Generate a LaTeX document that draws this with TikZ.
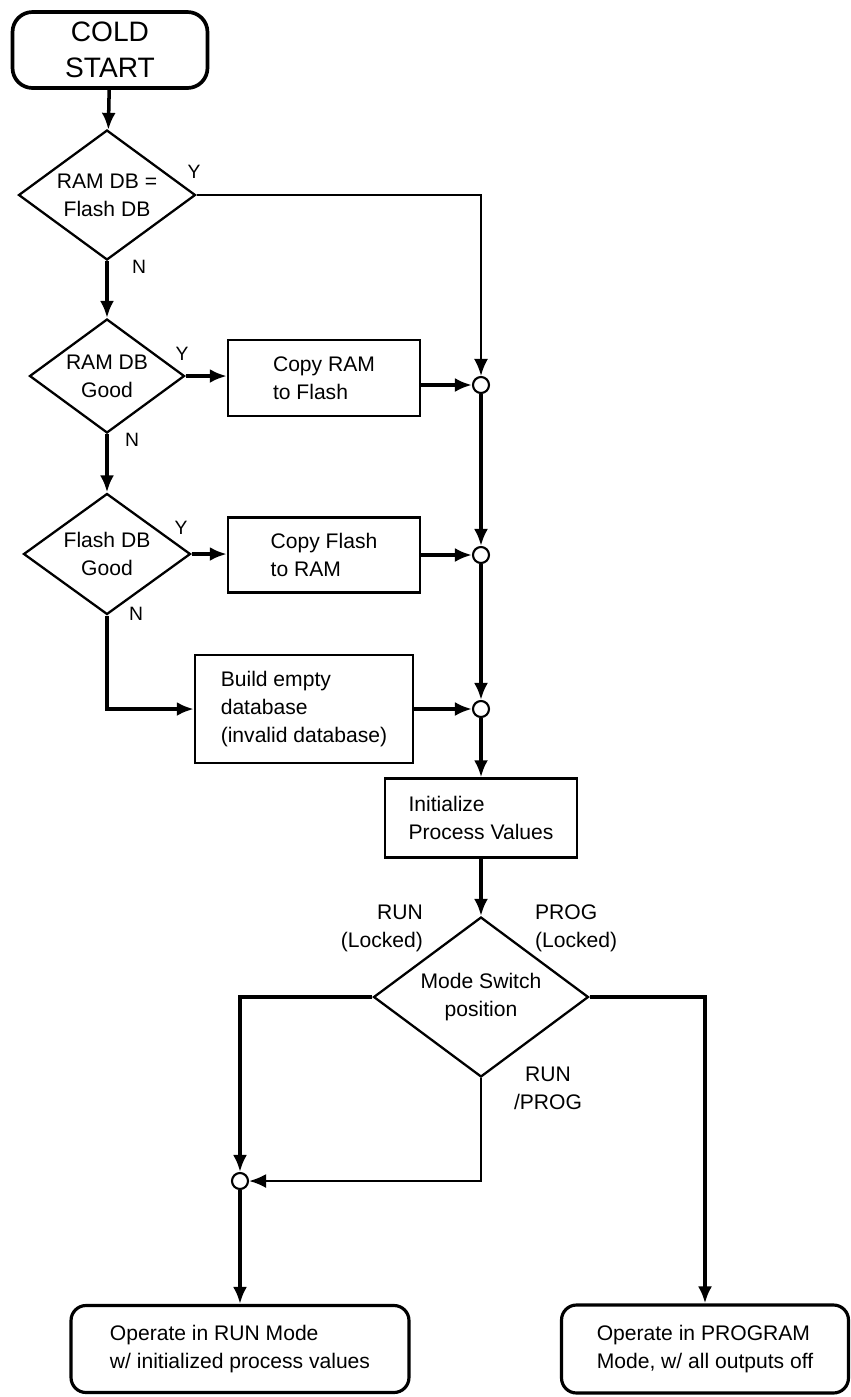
\documentclass[tikz,border=0pt]{standalone}
\usepackage{fontspec}
\setmainfont{Liberation Sans}
\usetikzlibrary{arrows.meta,shapes.geometric}

\begin{document}
\begin{tikzpicture}[
    x=0.02cm, y=-0.02cm,
    font=\fontsize{12}{16}\selectfont,
    box/.style={draw, line width=1.4pt, minimum height=1.52cm, minimum width=3.84cm,
      align=left, inner sep=3pt},
    term/.style={box, rounded corners=0.3cm, line width=1.8pt},
    test/.style={draw, diamond, line width=1.3pt, align=center, inner sep=0pt},
    jct/.style={draw, circle, fill=white, line width=1.2pt, minimum size=0.32cm, inner sep=0pt},
    lbl/.style={font=\fontsize{11}{13}\selectfont, inner sep=1pt},
    ar/.style={-{Latex[length=3.4mm, width=2.8mm]}, line width=2pt},
    tar/.style={-{Latex[length=3.4mm, width=2.8mm]}, line width=1.4pt},
  ]
    \useasboundingbox (0,0) rectangle (851,1397);
    % Start and database checks (left column)
    \node[term, font=\fontsize{16}{20.5}\selectfont, minimum width=3.9cm, minimum height=1.52cm,
      align=center, rounded corners=0.4cm, line width=2.1pt] (start) at (110,50) {COLD\\START};
    \node[test, minimum width=3.54cm, minimum height=2.6cm, aspect=1.36]  (eqdb)    at (107,195) {RAM DB =\\Flash DB};
    \node[test, minimum width=3.1cm, minimum height=2.28cm, aspect=1.36]  (ramok)   at (107,376) {RAM DB\\Good};
    \node[test, minimum width=3.34cm, minimum height=2.42cm, aspect=1.38] (flashok) at (107,554) {Flash DB\\Good};
    % Copy / rebuild actions
    \node[box]                                           (cpyram)   at (324,378) {Copy RAM\\to Flash};
    \node[box, minimum height=1.5cm]                     (cpyflash) at (324,555) {Copy Flash\\to RAM};
    \node[box, minimum width=4.36cm, minimum height=2.16cm] (build) at (304,709) {Build empty\\database\\(invalid database)};
    % Junctions on the right column
    \node[jct] (j1) at (481,385) {};
    \node[jct] (j2) at (481,555) {};
    \node[jct] (j3) at (481,709) {};
    \node[box, minimum height=1.58cm] (init) at (481,818) {Initialize\\Process Values};
    % Mode switch and end states
    \node[test, minimum width=4.3cm, minimum height=3.2cm, aspect=1.34] (mode) at (481,997) {Mode Switch\\position};
    \node[jct] (j4) at (240,1181) {};
    \node[term, minimum width=6.76cm, minimum height=1.74cm] (run)  at (240,1349) {Operate in RUN Mode\\w/ initialized process values};
    \node[term, minimum width=5.74cm, minimum height=1.76cm] (prog) at (705,1349) {Operate in PROGRAM\\Mode, w/ all outputs off};
    % Branch labels
    \node[lbl] (y1) at (194,172) {Y};
    \node[lbl] (n1) at (139,267) {N};
    \node[lbl] (y2) at (182,354) {Y};
    \node[lbl] (n2) at (132,440) {N};
    \node[lbl] (y3) at (181,528) {Y};
    \node[lbl] (n3) at (136,614) {N};
    \node[align=right, anchor=east, inner sep=1pt] (runlk)  at (425,928) {RUN\\(Locked)};
    \node[align=left, anchor=west, inner sep=1pt]  (proglk) at (533,928) {PROG\\(Locked)};
    \node[align=center, inner sep=1pt]             (runprg) at (548,1088) {RUN\\/PROG};
    % Database arrows
    \draw[ar]  (start) -- (eqdb);
    \draw[tar] (eqdb.east) -| (j1.north);
    \draw[ar]  (eqdb) -- (ramok);
    \draw[ar]  (ramok.east) -- (ramok.east -| cpyram.west);
    \draw[ar]  (cpyram.east |- j1) -- (j1);
    \draw[ar]  (ramok) -- (flashok);
    \draw[ar]  (flashok.east) -- (flashok.east -| cpyflash.west);
    \draw[ar]  (cpyflash) -- (j2);
    \draw[ar]  (flashok.south) |- (build.west);
    \draw[ar]  (build) -- (j3);
    \draw[ar]  (j1) -- (j2);
    \draw[ar]  (j2) -- (j3);
    \draw[ar]  (j3) -- (init);
    % Mode switch arrows
    \draw[ar]  (init) -- (mode);
    \draw[ar]  (mode.west) -| (j4.north);
    \draw[tar] (mode.south) |- (j4.east);
    \draw[ar]  (j4) -- (run);
    \draw[ar]  (mode.east) -| (prog.north);
\end{tikzpicture}
\end{document}
